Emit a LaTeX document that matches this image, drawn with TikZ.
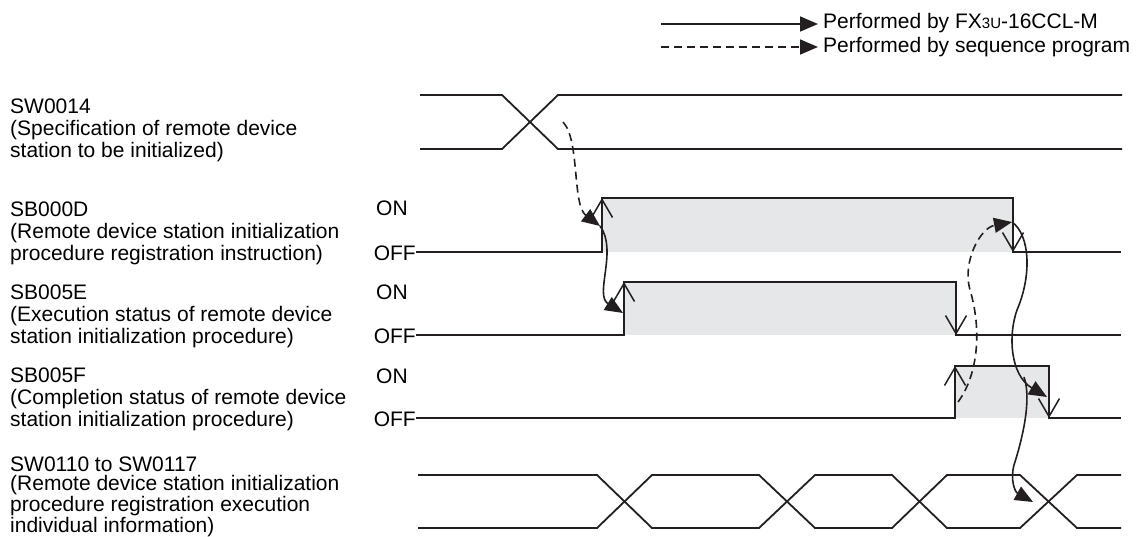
\documentclass[tikz,border=0pt]{standalone}
\usepackage{fontspec}
\setmainfont{Liberation Sans}
\usetikzlibrary{arrows.meta}

\definecolor{ink}{RGB}{35,31,32}
\definecolor{onshade}{RGB}{230,231,232}

\begin{document}
\begin{tikzpicture}[x=1pt, y=-1pt, line join=miter,
  lbl/.style={anchor=base west, inner sep=0pt, align=left, font=\fontsize{21}{22}\selectfont},
  lvl/.style={inner sep=0pt, font=\fontsize{21}{22}\selectfont},
  sig/.style={draw=ink, line width=1.8pt},
  tran/.style={draw=ink, line width=1.5pt, -{Straight Barb[length=18pt, width=21pt]}},
  bycpu/.style={draw=ink, line width=1.6pt, -{Triangle[length=18pt, width=15pt]}},
  byprog/.style={bycpu, dash pattern=on 8pt off 5pt},
]
  \useasboundingbox (0,0) rectangle (1139,536);

  % legend
  \node[lvl, anchor=west] (lgcpu) at (823,23) {Performed by FX{\fontsize{15}{15}\selectfont 3U}-16CCL-M};
  \node[lvl, anchor=west] (lgprog) at (823,47) {Performed by sequence program};
  \coordinate (lgA) at (661,24);
  \coordinate (lgB) at (661,47);
  \draw[bycpu] (lgA) -- ([xshift=-5pt]lgcpu.west |- lgA);
  \draw[byprog] (lgB) -- ([xshift=-5pt]lgprog.west |- lgB);

  % signal names (base = last line)
  \node[lbl] (swA) at (10,157) {SW0014\\(Specification of remote device\\station to be initialized)};
  \node[lbl] (sbD) at (10,260) {SB000D\\(Remote device station initialization\\procedure registration instruction)};
  \node[lbl] (sbE) at (10,343) {SB005E\\(Execution status of remote device\\station initialization procedure)};
  \node[lbl] (sbF) at (10,426) {SB005F\\(Completion status of remote device\\station initialization procedure)};
  \node[lbl, font=\fontsize{21}{19}\selectfont] (swB) at (10,532)
    {SW0110 to SW0117\\(Remote device station initialization\\procedure registration execution\\individual information)};

  % ON/OFF bits
  \foreach \nm/\on/\off/\up/\dn in {D/198/252/602/1013, E/282/335/624/956, F/366/418/955/1049} {
    \node[lvl, anchor=base west] (on\nm) at (376,\on+17) {ON};
    \node[lvl, anchor=base east] (off\nm) at (416,\off+8) {OFF};
    \fill[onshade] (\up,\on) rectangle (\dn,\off);
    \draw[sig] (416,\off) -- (\up,\off) -- (\up,\on) -- (\dn,\on) -- (\dn,\off) -- (1121,\off);
    \draw[tran] (\up,\off) -- (\up,\on);
    \draw[tran] (\dn,\on) -- (\dn,\off);
  }

  % word data
  \draw[sig] (420,95) -- (502,95) -- (558,149) -- (1122,149);
  \draw[sig] (420,149) -- (502,149) -- (558,95) -- (1122,95);
  \draw[sig] (418,475) -- (597,475) -- (652,528) -- (759,528) -- (815,475) -- (892,475)
    -- (947,528) -- (1020,528) -- (1077,475) -- (1121,475);
  \draw[sig] (418,528) -- (597,528) -- (652,475) -- (759,475) -- (815,528) -- (892,528)
    -- (947,475) -- (1020,475) -- (1077,528) -- (1121,528);

  % handshake points
  \coordinate (swSet) at (563,122);
  \coordinate (dUp) at (600,226);
  \coordinate (eUp) at (623,313);
  \coordinate (fUp) at (958,402);
  \coordinate (dDn) at (1012,222);
  \coordinate (fDn) at (1047,397);
  \coordinate (fork) at (1024,377);
  \coordinate (swRes) at (1033,502);

  % handshake arrows
  \draw[byprog] (swSet) .. controls (580,140) and (572,205) .. (dUp);
  \draw[bycpu] (dUp) .. controls (618,250) and (594,295) .. (eUp);
  \draw[byprog] (fUp) .. controls (978,375) and (982,330) .. (970,290)
    .. controls (962,262) and (980,228) .. (dDn);
  \draw[bycpu] (dDn) .. controls (1030,235) and (1032,275) .. (1017,310)
    .. controls (1008,335) and (1010,375) .. (fDn);
  \draw[bycpu] (fork) .. controls (1032,400) and (1022,440) .. (1014,465)
    .. controls (1010,480) and (1015,492) .. (swRes);

\end{tikzpicture}
\end{document}
